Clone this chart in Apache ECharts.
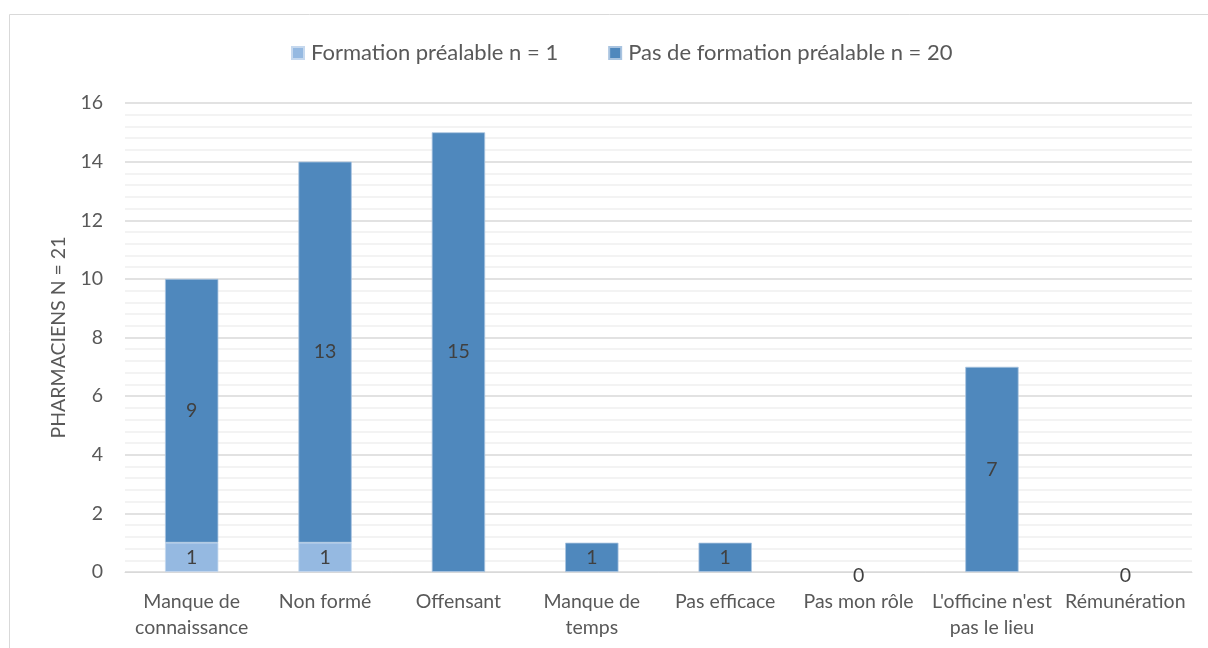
<!DOCTYPE html>
<html><head><meta charset="utf-8">
<script src="https://cdn.jsdelivr.net/npm/echarts@6/dist/echarts.min.js"></script>
<style>html,body{margin:0;padding:0;background:#fff}#c{width:1208px;height:648px}</style>
</head><body><div id="c"></div>
<script>
const categories = ["Manque de\nconnaissance","Non formé","Offensant","Manque de\ntemps","Pas efficace","Pas mon rôle","L'officine n'est\npas le lieu","Rémunération"];
const seriesNames = ["Formation préalable n = 1","Pas de formation préalable n = 20"];
const formation = [1,1,0,0,0,0,0,0];
const pasFormation = [9,13,15,1,1,0,7,0];
const yTicks = [0,2,4,6,8,10,12,14,16];

const font = "Lato, 'Open Sans', sans-serif";
const txt = "#595959";
function items(arr, showZero){
  return arr.map(v => v === 0
    ? {value:v, itemStyle:{borderWidth:0, color:'rgba(0,0,0,0)'}, label:{show:showZero, offset:[0,4]}}
    : {value:v});
}
const chart = echarts.init(document.getElementById('c'));
chart.setOption({
  animation:false,
  graphic:[{type:'rect',shape:{x:9.5,y:14.5,width:1300,height:800},style:{fill:'none',stroke:'#d9d9d9',lineWidth:1},silent:true}],
  legend:{top:37,left:286,itemWidth:12,itemHeight:12,itemGap:50,icon:'rect',
    textStyle:{fontFamily:font,fontSize:22,color:txt,padding:[0,0,0,2]}},
  grid:{left:125,right:16,top:103,bottom:76},
  xAxis:{type:'category',data:categories,
    axisLine:{lineStyle:{color:'#d9d9d9',width:1}},axisTick:{show:false},
    axisLabel:{fontFamily:font,fontSize:19.5,color:txt,interval:0,lineHeight:26,margin:17}},
  yAxis:{type:'value',min:yTicks[0],max:yTicks[yTicks.length-1],interval:2,
    name:'PHARMACIENS N = 21',nameLocation:'middle',nameGap:56,nameRotate:90,
    nameTextStyle:{fontFamily:font,fontSize:19.5,color:txt},
    axisLine:{show:false},axisTick:{show:false},
    axisLabel:{fontFamily:font,fontSize:19.5,color:txt,margin:22},
    splitLine:{lineStyle:{color:'#d9d9d9',width:1.5}},
    minorTick:{show:false,splitNumber:5},
    minorSplitLine:{show:true,lineStyle:{color:'#efefef',width:1.5}}},
  series:[
    {name:seriesNames[0],type:'bar',stack:'a',data:items(formation,false),barWidth:'40%',
     itemStyle:{color:'#95b9e1',borderColor:'#c5d8ee',borderWidth:0.8},
     label:{show:true,position:'inside',fontFamily:font,fontSize:19.5,color:'#404040'}},
    {name:seriesNames[1],type:'bar',stack:'a',data:items(pasFormation,true),barWidth:'40%',
     itemStyle:{color:'#4f88bd',borderColor:'#a9c4e0',borderWidth:0.8},
     label:{show:true,position:'inside',fontFamily:font,fontSize:19.5,color:'#404040'}}
  ]
});
</script></body></html>
